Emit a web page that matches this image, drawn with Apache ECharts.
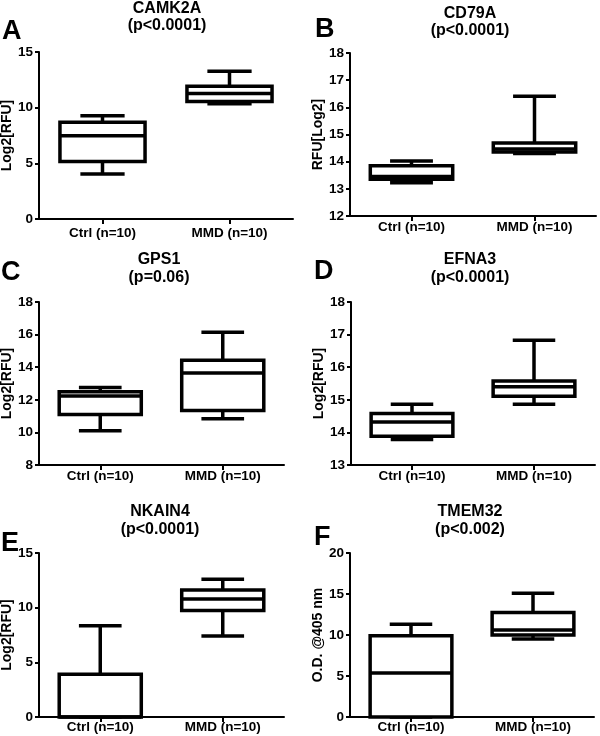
<!DOCTYPE html>
<html><head><meta charset="utf-8">
<script src="https://cdn.jsdelivr.net/npm/echarts@6/dist/echarts.min.js"></script>
<style>html,body{margin:0;padding:0;background:#fff}#c{width:600px;height:736px}</style>
</head><body><div id="c"></div>
<script>
const categories = ['Ctrl (n=10)', 'MMD (n=10)'];
const genes = ['CAMK2A', 'CD79A', 'GPS1', 'EFNA3', 'NKAIN4', 'TMEM32'];
const pLabels = ['(p<0.0001)', '(p<0.0001)', '(p=0.06)', '(p<0.0001)', '(p<0.0001)', '(p<0.002)'];
const panelLetters = ['A', 'B', 'C', 'D', 'E', 'F'];
const yNames = ['Log2[RFU]', 'RFU[Log2]', 'Log2[RFU]', 'Log2[RFU]', 'Log2[RFU]', 'O.D. @405 nm'];
const yMin = [0, 12, 8, 13, 0, 0];
const yMax = [15, 18, 18, 18, 15, 20];
const yStep = [5, 1, 2, 1, 5, 5];
// each: [min, Q1, median, Q3, max]
const camk2aCtrl = [4.05, 5.16, 7.48, 8.68, 9.27];
const camk2aMMD  = [10.35, 10.55, 11.28, 11.93, 13.28];
const cd79aCtrl  = [13.22, 13.35, 13.45, 13.85, 14.02];
const cd79aMMD   = [14.30, 14.36, 14.47, 14.69, 16.41];
const gps1Ctrl   = [10.10, 11.10, 12.24, 12.50, 12.75];
const gps1MMD    = [10.83, 11.34, 13.64, 14.43, 16.14];
const efna3Ctrl  = [13.78, 13.88, 14.32, 14.58, 14.86];
const efna3MMD   = [14.86, 15.11, 15.40, 15.58, 16.83];
const nkain4Ctrl = [0, 0, 0, 3.90, 8.35];
const nkain4MMD  = [7.41, 9.73, 10.79, 11.62, 12.59];
const tmem32Ctrl = [0, 0, 5.37, 9.92, 11.30];
const tmem32MMD  = [9.50, 10.00, 10.60, 12.73, 15.10];

const panelData = [
  [camk2aCtrl, camk2aMMD], [cd79aCtrl, cd79aMMD], [gps1Ctrl, gps1MMD],
  [efna3Ctrl, efna3MMD], [nkain4Ctrl, nkain4MMD], [tmem32Ctrl, tmem32MMD]
];

// layout (pixels)
const grids = [
  {left: 39, top: 52, width: 254, height: 167},
  {left: 350, top: 53, width: 246, height: 163},
  {left: 39, top: 302, width: 245, height: 163},
  {left: 351, top: 302, width: 244, height: 163},
  {left: 39, top: 553, width: 245, height: 164},
  {left: 350, top: 553, width: 244, height: 164}
];
const nameGaps = [24, 21, 24, 21, 24, 21];
const catMargins = [7, 4, 4, 4, 3.5, 3.5];
const titlePos = [[167, 8.5, 25.5], [470, 13.5, 31], [159, 260, 278], [470, 260, 278], [160, 512, 530], [470, 512, 530]];
const letterPos = [[2, 32], [315, 30], [1, 273], [314, 272], [1, 544], [314, 538]];

const FONT = '"Liberation Sans", Arial, sans-serif';

function renderBox(params, api) {
  const ci = api.value(0);
  const v = [api.value(1), api.value(2), api.value(3), api.value(4), api.value(5)];
  const band = api.size([1, 0])[0];
  const bw = band * 0.67;
  const cw = bw * 0.52;
  const p = v.map(val => api.coord([ci, val]));
  const cx = p[0][0];
  const ls = {stroke: '#000', lineWidth: 3.5, fill: null};
  return {
    type: 'group',
    children: [
      {type: 'line', shape: {x1: cx, y1: p[3][1], x2: cx, y2: p[4][1]}, style: ls},
      {type: 'line', shape: {x1: cx, y1: p[1][1], x2: cx, y2: p[0][1]}, style: ls},
      {type: 'line', shape: {x1: cx - cw / 2, y1: p[4][1], x2: cx + cw / 2, y2: p[4][1]}, style: ls},
      {type: 'line', shape: {x1: cx - cw / 2, y1: p[0][1], x2: cx + cw / 2, y2: p[0][1]}, style: ls},
      {type: 'rect', shape: {x: cx - bw / 2, y: p[3][1], width: bw, height: p[1][1] - p[3][1]},
        style: {stroke: '#000', lineWidth: 3.5, fill: '#fff'}},
      {type: 'line', shape: {x1: cx - bw / 2, y1: p[2][1], x2: cx + bw / 2, y2: p[2][1]}, style: ls}
    ]
  };
}

const option = {
  animation: false,
  backgroundColor: '#fff',
  grid: [], xAxis: [], yAxis: [], series: [], graphic: []
};

for (let i = 0; i < 6; i++) {
  option.grid.push(Object.assign({outerBoundsMode: 'none', containLabel: false}, grids[i]));
  option.xAxis.push({
    type: 'category', gridIndex: i, data: categories, boundaryGap: true,
    axisLine: {show: true, lineStyle: {color: '#000', width: 2}},
    axisTick: {show: true, alignWithLabel: true, length: 5, lineStyle: {color: '#000', width: 2}},
    axisLabel: {color: '#000', fontFamily: FONT, fontWeight: 'bold', fontSize: 13.5, margin: catMargins[i]},
    splitLine: {show: false}
  });
  option.yAxis.push({
    type: 'value', gridIndex: i, min: yMin[i], max: yMax[i], interval: yStep[i],
    axisLine: {show: true, lineStyle: {color: '#000', width: 2}},
    axisTick: {show: true, length: 4, lineStyle: {color: '#000', width: 2}},
    axisLabel: {color: '#000', fontFamily: FONT, fontWeight: 'bold', fontSize: 13.5, margin: 6},
    splitLine: {show: false},
    name: yNames[i], nameLocation: 'middle', nameRotate: 90, nameGap: nameGaps[i],
    nameTextStyle: {color: '#000', fontFamily: FONT, fontWeight: 'bold', fontSize: 14}
  });
  option.series.push({
    type: 'custom', xAxisIndex: i, yAxisIndex: i,
    renderItem: renderBox,
    encode: {x: 0, y: [1, 2, 3, 4, 5]},
    data: panelData[i].map((d, k) => [k].concat(d)),
    clip: false, z: 3
  });
  const tp = titlePos[i];
  option.graphic.push({type: 'text', x: tp[0], y: tp[1], style: {text: genes[i], fill: '#000',
    font: 'bold 16px ' + FONT, align: 'center', verticalAlign: 'middle'}});
  option.graphic.push({type: 'text', x: tp[0], y: tp[2], style: {text: pLabels[i], fill: '#000',
    font: 'bold 16px ' + FONT, align: 'center', verticalAlign: 'middle'}});
  const lp = letterPos[i];
  option.graphic.push({type: 'text', x: lp[0], y: lp[1], style: {text: panelLetters[i], fill: '#000',
    font: 'bold 27px ' + FONT, align: 'left', verticalAlign: 'middle'}});
}

const chart = echarts.init(document.getElementById('c'), null, {renderer: 'canvas'});
chart.setOption(option);
</script>
</body></html>
